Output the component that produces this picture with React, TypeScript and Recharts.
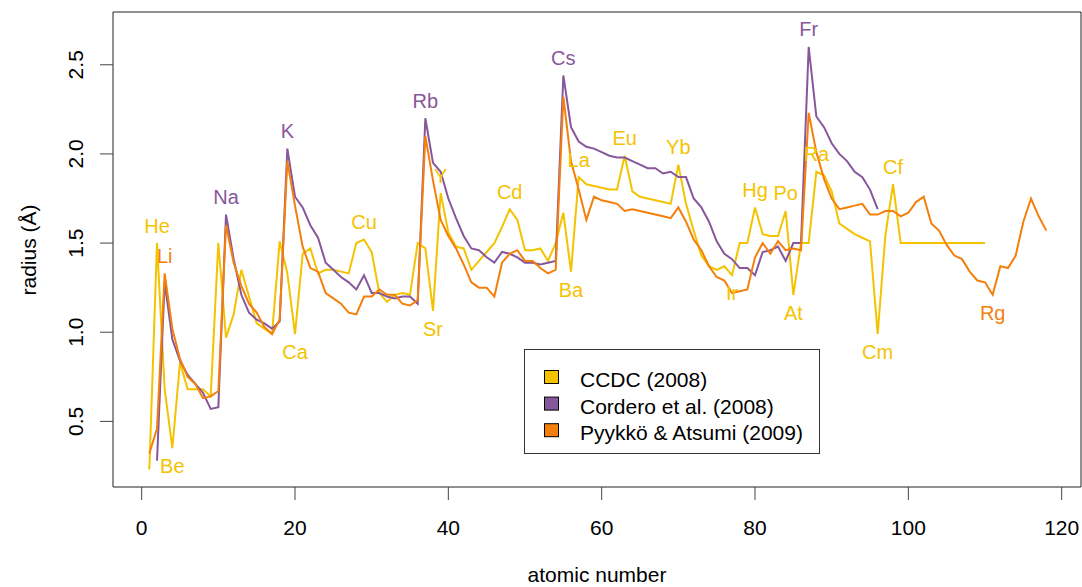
import React from "react";
import {
  LineChart,
  Line,
  XAxis,
  YAxis,
  ReferenceArea,
} from "recharts";

// atomic numbers 1..118
const atomicNumbers = Array.from({ length: 118 }, (_, i) => i + 1);

// CCDC (2008), Z = 1..110
const ccdc = [
  0.23, 1.5, 0.68, 0.35, 0.83, 0.68, 0.68, 0.68, 0.64, 1.5,
  0.97, 1.1, 1.35, 1.2, 1.05, 1.02, 0.99, 1.51, 1.33, 0.99,
  1.44, 1.47, 1.33, 1.35, 1.35, 1.34, 1.33, 1.5, 1.52, 1.45,
  1.22, 1.17, 1.21, 1.22, 1.21, 1.5, 1.47, 1.12, 1.78, 1.56,
  1.48, 1.47, 1.35, 1.4, 1.45, 1.5, 1.59, 1.69, 1.63, 1.46,
  1.46, 1.47, 1.4, 1.5, 1.67, 1.34, 1.87, 1.83, 1.82, 1.81,
  1.8, 1.8, 1.99, 1.79, 1.76, 1.75, 1.74, 1.73, 1.72, 1.94,
  1.72, 1.57, 1.43, 1.37, 1.35, 1.37, 1.32, 1.5, 1.5, 1.7,
  1.55, 1.54, 1.54, 1.68, 1.21, 1.5, 1.5, 1.9, 1.88, 1.79,
  1.61, 1.58, 1.55, 1.53, 1.51, 0.99, 1.54, 1.83, 1.5, 1.5,
  1.5, 1.5, 1.5, 1.5, 1.5, 1.5, 1.5, 1.5, 1.5, 1.5,
];

// Cordero et al. (2008), Z = 1..96
const cordero = [
  null, 0.28, 1.28, 0.96, 0.84, 0.76, 0.71, 0.66, 0.57, 0.58,
  1.66, 1.41, 1.21, 1.11, 1.07, 1.05, 1.02, 1.06, 2.03, 1.76,
  1.7, 1.6, 1.53, 1.39, 1.35, 1.31, 1.28, 1.24, 1.32, 1.22,
  1.22, 1.2, 1.19, 1.2, 1.2, 1.16, 2.2, 1.95, 1.9, 1.75,
  1.64, 1.54, 1.47, 1.46, 1.42, 1.39, 1.45, 1.44, 1.42, 1.39,
  1.39, 1.38, 1.39, 1.4, 2.44, 2.15, 2.07, 2.04, 2.03, 2.01,
  1.99, 1.98, 1.98, 1.96, 1.94, 1.92, 1.92, 1.89, 1.9, 1.87,
  1.87, 1.75, 1.7, 1.62, 1.51, 1.44, 1.41, 1.36, 1.36, 1.32,
  1.45, 1.46, 1.48, 1.4, 1.5, 1.5, 2.6, 2.21, 2.15, 2.06,
  2.0, 1.96, 1.9, 1.87, 1.8, 1.69,
];

// Pyykkö & Atsumi (2009), Z = 1..118
const pyykko = [
  0.32, 0.46, 1.33, 1.02, 0.85, 0.75, 0.71, 0.63, 0.64, 0.67,
  1.6, 1.39, 1.26, 1.16, 1.11, 1.03, 0.99, 1.07, 1.96, 1.71,
  1.48, 1.36, 1.34, 1.22, 1.19, 1.16, 1.11, 1.1, 1.2, 1.2,
  1.24, 1.21, 1.21, 1.16, 1.15, 1.18, 2.1, 1.85, 1.63, 1.54,
  1.47, 1.38, 1.28, 1.25, 1.25, 1.2, 1.39, 1.44, 1.46, 1.4,
  1.4, 1.36, 1.33, 1.35, 2.32, 1.96, 1.8, 1.63, 1.76, 1.74,
  1.73, 1.72, 1.68, 1.69, 1.68, 1.67, 1.66, 1.65, 1.64, 1.7,
  1.62, 1.52, 1.46, 1.37, 1.31, 1.29, 1.22, 1.23, 1.24, 1.42,
  1.5, 1.44, 1.51, 1.46, 1.47, 1.46, 2.23, 2.01, 1.86, 1.75,
  1.69, 1.7, 1.71, 1.72, 1.66, 1.66, 1.68, 1.68, 1.65, 1.67,
  1.73, 1.76, 1.61, 1.57, 1.49, 1.43, 1.41, 1.34, 1.29, 1.28,
  1.21, 1.37, 1.36, 1.43, 1.62, 1.75, 1.65, 1.57,
];

// element labels: atomic number, symbol, above/below the point
const ccdcLabels = [
  { z: 2, text: "He", pos: "above" },
  { z: 4, text: "Be", pos: "below" },
  { z: 20, text: "Ca", pos: "below" },
  { z: 29, text: "Cu", pos: "above" },
  { z: 38, text: "Sr", pos: "below" },
  { z: 39, text: "Y", pos: "above" },
  { z: 48, text: "Cd", pos: "above" },
  { z: 56, text: "Ba", pos: "below" },
  { z: 57, text: "La", pos: "above" },
  { z: 63, text: "Eu", pos: "above" },
  { z: 70, text: "Yb", pos: "above" },
  { z: 77, text: "Ir", pos: "below" },
  { z: 80, text: "Hg", pos: "above" },
  { z: 84, text: "Po", pos: "above" },
  { z: 85, text: "At", pos: "below" },
  { z: 88, text: "Ra", pos: "above" },
  { z: 96, text: "Cm", pos: "below" },
  { z: 98, text: "Cf", pos: "above" },
];
const corderoLabels = [
  { z: 11, text: "Na", pos: "above" },
  { z: 19, text: "K", pos: "above" },
  { z: 37, text: "Rb", pos: "above" },
  { z: 55, text: "Cs", pos: "above" },
  { z: 87, text: "Fr", pos: "above" },
];
const pyykkoLabels = [
  { z: 3, text: "Li", pos: "above" },
  { z: 111, text: "Rg", pos: "below" },
];

const xTicks = [0, 20, 40, 60, 80, 100, 120];
const yTicks = [0.5, 1.0, 1.5, 2.0, 2.5];

const YELLOW = "#F4C300";
const PURPLE = "#87579B";
const ORANGE = "#F47F0B";
const FONT = "'Liberation Sans', Arial, Helvetica, sans-serif";

const X_DOMAIN = [-3.74, 122.52];
const Y_DOMAIN = [0.132, 2.796];

const series = [
  { key: "ccdc", name: "CCDC (2008)", color: YELLOW, labels: ccdcLabels },
  { key: "cordero", name: "Cordero et al. (2008)", color: PURPLE, labels: corderoLabels },
  { key: "pyykko", name: "Pyykkö & Atsumi (2009)", color: ORANGE, labels: pyykkoLabels },
];

const rows = atomicNumbers.map((z, i) => ({
  z,
  ccdc: ccdc[i] ?? null,
  cordero: cordero[i] ?? null,
  pyykko: pyykko[i] ?? null,
}));

// symbol labels are drawn through the dot renderer so they sit on the data points
function makeLabelDot(labels, color) {
  return (props) => {
    const { cx, cy, payload, index } = props;
    const lab = labels.find((l) => l.z === payload?.z);
    if (!lab || cx == null || cy == null) return <g key={`d-${index}`} />;
    const y = lab.pos === "above" ? cy - 10.5 : cy + 25;
    return (
      <text
        key={`d-${index}`}
        x={cx}
        y={y}
        textAnchor="middle"
        fill={color}
        fontSize={20}
        fontFamily={FONT}
      >
        {lab.text}
      </text>
    );
  };
}

function YTick(props) {
  const { y, payload } = props;
  const bx = 83;
  return (
    <text
      x={bx}
      y={y}
      textAnchor="middle"
      fontSize={21}
      fontFamily={FONT}
      fill="#000"
      transform={`rotate(-90 ${bx} ${y})`}
    >
      {payload.value.toFixed(1)}
    </text>
  );
}

export default function App() {
  return (
    <div
      style={{
        position: "absolute",
        left: 0,
        top: 0,
        width: 1082,
        height: 587,
        background: "#fff",
        fontFamily: FONT,
      }}
    >
      <LineChart
        width={1082}
        height={587}
        data={rows}
        margin={{ top: 12, right: 1, bottom: 0, left: 0 }}
      >
        <XAxis
          dataKey="z"
          type="number"
          domain={X_DOMAIN}
          ticks={xTicks}
          allowDataOverflow
          height={100}
          axisLine={false}
          tickSize={13}
          tickMargin={20}
          tickLine={{ stroke: "#444" }}
          tick={{ fontSize: 21, fontFamily: FONT, fill: "#000" }}
        />
        <YAxis
          type="number"
          domain={Y_DOMAIN}
          ticks={yTicks}
          allowDataOverflow
          width={113}
          axisLine={false}
          tickSize={13}
          tickLine={{ stroke: "#444" }}
          tick={<YTick />}
        />
        <ReferenceArea
          x1={X_DOMAIN[0]}
          x2={X_DOMAIN[1]}
          y1={Y_DOMAIN[0]}
          y2={Y_DOMAIN[1]}
          fill="none"
          stroke="#222"
          strokeWidth={1}
        />
        {series.map((s) => (
          <Line
            key={s.key}
            dataKey={s.key}
            name={s.name}
            type="linear"
            stroke={s.color}
            strokeWidth={2}
            dot={makeLabelDot(s.labels, s.color)}
            activeDot={false}
            isAnimationActive={false}
          />
        ))}
      </LineChart>

      {/* axis titles and legend */}
      <svg
        width={1082}
        height={587}
        style={{ position: "absolute", left: 0, top: 0, pointerEvents: "none" }}
      >
        <text
          x={597}
          y={582}
          textAnchor="middle"
          fontSize={21}
          fontFamily={FONT}
          fill="#000"
        >
          atomic number
        </text>
        <text
          x={36}
          y={250}
          textAnchor="middle"
          fontSize={21}
          fontFamily={FONT}
          fill="#000"
          transform="rotate(-90 36 250)"
        >
          radius (Å)
        </text>
        <rect x={524.5} y={349.5} width={295} height={104} fill="#fff" stroke="#333" />
        {series.map((s, i) => {
          const cy = 377 + i * 26.6;
          return (
            <g key={s.key}>
              <rect x={544.5} y={cy - 6.5} width={14} height={13} fill={s.color} stroke="#000" />
              <text x={580} y={cy + 10} fontSize={21} fontFamily={FONT} fill="#000">
                {s.name}
              </text>
            </g>
          );
        })}
      </svg>
    </div>
  );
}
